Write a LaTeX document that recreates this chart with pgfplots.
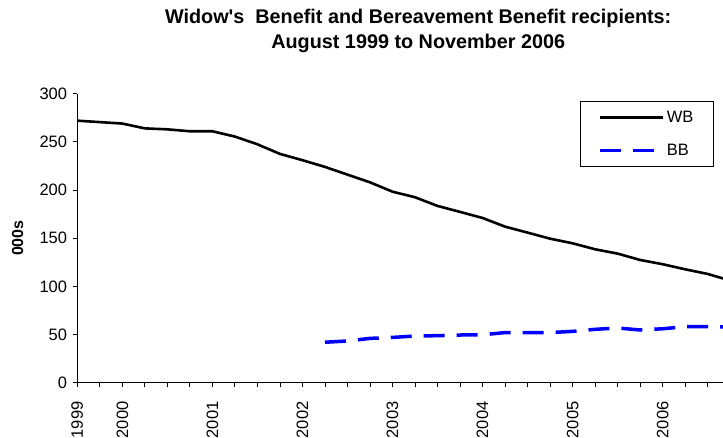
\documentclass[border=0pt]{standalone}
\usepackage{pgfplots}
\pgfplotsset{compat=1.18}
\usepackage{fontspec}
\setmainfont{Liberation Sans}

% quarterly points, Aug 1999 = 0 ... Nov 2006 = 29
\pgfplotstableread{
q   wb
0   272
1   270.5
2   269
3   264
4   263
5   261
6   261
7   255.5
8   247.5
9   237.5
10  231
11  224
12  216
13  208
14  198.3
15  192.5
16  183.5
17  177.3
18  171
19  162
20  155.8
21  149.5
22  144.7
23  138.5
24  134
25  127.4
26  123
27  117.7
28  112.9
29  106
}\wbdata
\pgfplotstableread{
q   bb
11  42
12  43.3
13  46
14  47
15  48.5
16  48.8
17  49.5
18  49.8
19  52
20  52
21  52
22  53.3
23  55.4
24  56.8
25  54.7
26  56
27  58.1
28  58.1
29  58
}\bbdata

\begin{document}
\begin{tikzpicture}
\useasboundingbox (0,0) rectangle (723bp,438bp);
\begin{axis}[
    at={(77.3bp,55.3bp)}, anchor=south west,
    scale only axis,
    width=645.7bp, height=289bp,
    xmin=0, xmax=28.68,
    ymin=0, ymax=300,
    axis x line=bottom, axis y line=left,
    axis line style={-, line width=0.8bp},
    every tick/.style={black, line width=0.8bp},
    tick align=outside,
    major tick length=4.7bp, minor tick length=4.7bp,
    xtick={0,2,6,10,14,18,22,26},
    xticklabels={1999,2000,2001,2002,2003,2004,2005,2006},
    minor xtick={1,3,4,5,7,8,9,11,12,13,15,16,17,19,20,21,23,24,25,27,28},
    ytick={0,50,...,300},
    /pgf/number format/assume math mode=true,
    ticklabel style={font=\fontsize{16.5bp}{19bp}\selectfont},
    xticklabel style={rotate=90, anchor=east, inner xsep=14bp},
    yticklabel style={xshift=-2bp},
    ylabel={\bfseries 000s},
    ylabel style={at={(axis description cs:-0.0926,0.5)}, anchor=center,
        font=\fontsize{16bp}{19bp}\selectfont},
    title={\bfseries Widow\textquotesingle s\ \ Benefit and Bereavement Benefit recipients:\\\bfseries August 1999 to November 2006},
    title style={at={(0.528,1.1965)}, anchor=center, align=center,
        font=\fontsize{19.8bp}{25.5bp}\selectfont},
    legend style={at={(0.7785,0.9758)}, anchor=north west,
        draw=black, line width=0.8bp, fill=white,
        font=\fontsize{16.5bp}{19bp}\selectfont,
        inner xsep=18bp, inner ysep=8bp, row sep=16bp},
    legend cell align=left,
    legend image code/.code={\draw[#1] (0bp,0bp) -- (63bp,0bp);},
]
\addplot[black, line width=2.6bp, line join=round] table[x=q, y=wb] {\wbdata};
\addlegendentry{WB}
\addplot[color={rgb,255:red,0;green,0;blue,255}, line width=3.5bp,
    dash pattern=on 21bp off 12bp] table[x=q, y=bb] {\bbdata};
\addlegendentry{BB}
\end{axis}
\end{tikzpicture}
\end{document}
